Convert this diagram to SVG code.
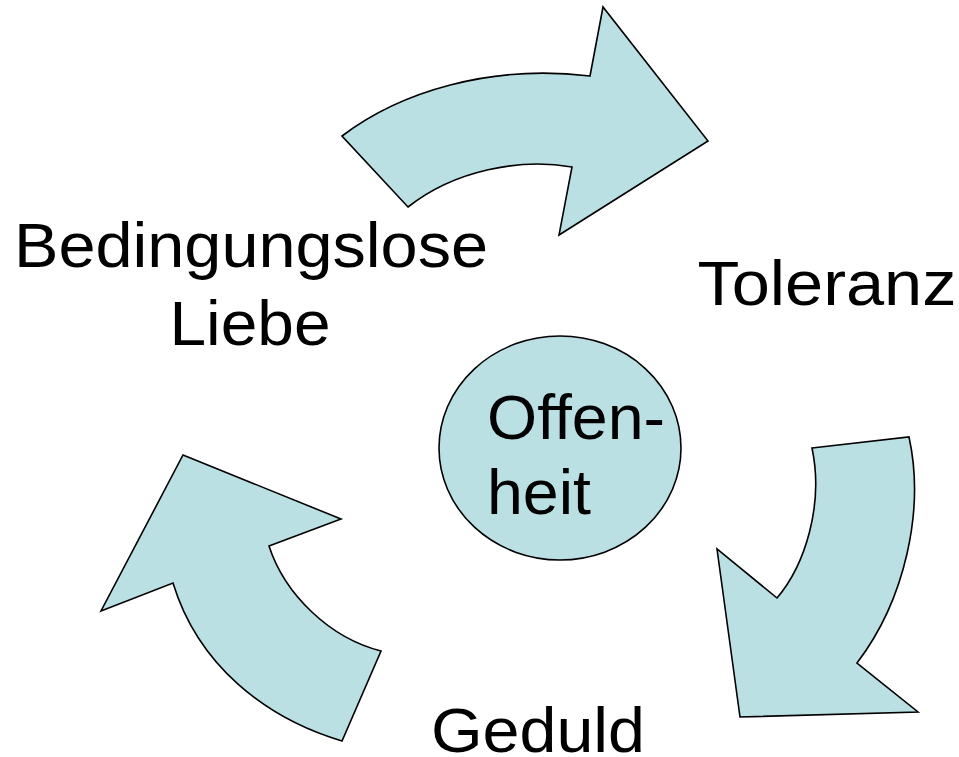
<svg xmlns="http://www.w3.org/2000/svg" width="959" height="757" viewBox="0 0 959 757">
<style>
.shape{fill:#BBE0E3;stroke:#000;stroke-width:1.6;stroke-linejoin:miter}
.lbl{font-family:"Liberation Sans",Arial,sans-serif;font-size:63px;fill:#000}
</style>
<rect width="959" height="757" fill="#fff"/>
<g id="connectors">
<path id="arrow-top" class="shape" d="M342,136 C400,92 490,64 590,76 L603,7 L708,141 L559,235 L572,167 C520,158 455,170 408,207 Z"/>
<path id="arrow-right" class="shape" d="M812,448 L909,437 C925,510 905,600 857,663 L918,712 L740,717 L717,549 L777,598 C805,565 824,505 812,448 Z"/>
<path id="arrow-left" class="shape" d="M183,455 L341,519 L269,546 C285,595 330,638 381,651 L342,741 C265,718 198,665 173,583 L101,611 Z"/>
</g>
<g id="node-offenheit">
<ellipse class="shape" cx="560" cy="448" rx="121" ry="112"/>
<text class="lbl" x="487" y="439" textLength="178" lengthAdjust="spacingAndGlyphs">Offen-</text>
<text class="lbl" x="487" y="514" textLength="104" lengthAdjust="spacingAndGlyphs">heit</text>
</g>
<g id="node-liebe">
<text class="lbl" x="251" y="267" text-anchor="middle" textLength="474" lengthAdjust="spacingAndGlyphs">Bedingungslose</text>
<text class="lbl" x="250" y="345" text-anchor="middle" textLength="161" lengthAdjust="spacingAndGlyphs">Liebe</text>
</g>
<g id="node-toleranz">
<text class="lbl" x="827" y="305" text-anchor="middle" textLength="259" lengthAdjust="spacingAndGlyphs">Toleranz</text>
</g>
<g id="node-geduld">
<text class="lbl" x="538" y="752" text-anchor="middle" textLength="214" lengthAdjust="spacingAndGlyphs">Geduld</text>
</g>
</svg>
